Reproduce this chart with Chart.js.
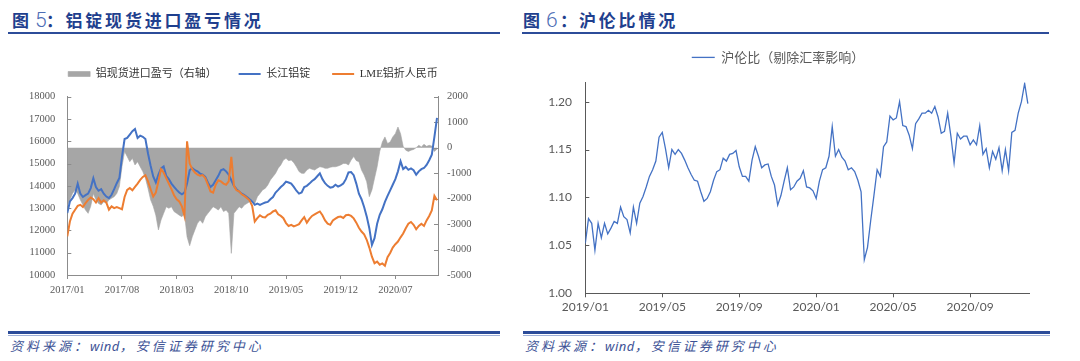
<!DOCTYPE html>
<html><head><meta charset="utf-8">
<script src="https://cdn.jsdelivr.net/npm/chart.js@4.4.0/dist/chart.umd.min.js"></script>
<style>
html,body{margin:0;padding:0;background:#fff;}
body{width:1080px;height:361px;position:relative;overflow:hidden;font-family:"Noto Sans CJK SC","Noto Sans",sans-serif;}
.t{position:absolute;color:#1f3f8e;font-weight:700;font-size:17px;line-height:20px;white-space:nowrap;top:10px;}
.ts{letter-spacing:2.8px;}
.num{position:absolute;color:#4d6db5;font-family:Roboto,"Noto Sans",sans-serif;font-weight:300;font-size:21px;line-height:22px;top:8.5px;}
.rule{position:absolute;height:2.5px;background:#2c4c99;top:31.5px;}
.frule{position:absolute;height:2.5px;background:#2c4c99;top:331px;}
.frule2{position:absolute;height:1px;background:#9fb0d8;top:334.5px;}
.foot{position:absolute;top:338px;font-size:13px;font-style:italic;color:#3d5396;letter-spacing:3px;white-space:nowrap;line-height:16px;}
.foot i{font-family:"Noto Sans",sans-serif;letter-spacing:0.5px;}
canvas{position:absolute;}
</style></head><body>

<span class="t" style="left:12px">图</span><span class="num" style="left:35px">5</span><span class="t" style="left:46px">：</span><span class="t ts" style="left:65.5px">铝锭现货进口盈亏情况</span>
<div class="rule" style="left:8px;width:492px"></div>

<span class="t" style="left:523px">图</span><span class="num" style="left:546px">6</span><span class="t" style="left:560px">：</span><span class="t ts" style="left:579px">沪伦比情况</span>
<div class="rule" style="left:522px;width:527px"></div>

<canvas id="c1" width="520" height="280" style="left:0;top:40px;width:520px;height:280px"></canvas>
<canvas id="c2" width="530" height="280" style="left:520px;top:40px;width:530px;height:280px"></canvas>

<div class="frule" style="left:8px;width:492px"></div><div class="frule2" style="left:8px;width:492px"></div>
<div class="frule" style="left:523px;width:527px"></div><div class="frule2" style="left:523px;width:527px"></div>
<div class="foot" style="left:10px">资料来源：<i>wind</i>，安信证券研究中心</div>
<div class="foot" style="left:525px">资料来源：<i>wind</i>，安信证券研究中心</div>

<script>
// ---------- Figure 5 data (one sample every 1/3 month from 2017/01) ----------
const fig5StepMonths = 1 / 3;
const fig5TickLabels = ['2017/01','2017/08','2018/03','2018/10','2019/05','2019/12','2020/07'];
const fig5TickEveryMonths = 7;
const fig5Names = ['铝现货进口盈亏（右轴）', '长江铝锭', 'LME铝折人民币'];

const importProfit = [
 -2300,-2050,-1800,-1660,-1800,-2050,-2250,-2450,-2580,-2300,
 -1800,-2050,-2190,-2250,-2120,-2190,-2050,-1990,-1925,-1800,
 -1530,-750,-150,-350,-550,-420,-680,-550,-750,-940,
 -1200,-1600,-2050,-2300,-2650,-3230,-2840,-2580,-2320,-2380,
 -2320,-2510,-2580,-2650,-2710,-2600,-3500,-3850,-3500,-3230,
 -2970,-2840,-2970,-2710,-2580,-2450,-2320,-2380,-2450,-2320,
 -2510,-2450,-2580,-4150,-2580,-2450,-2320,-2380,-2250,-2190,
 -2120,-2050,-2190,-1925,-1800,-1660,-1600,-1470,-1270,-1140,
 -1010,-810,-680,-490,-420,-510,-490,-590,-750,-940,
 -1010,-1010,-880,-810,-850,-880,-810,-750,-770,-810,
 -810,-770,-750,-750,-720,-680,-620,-620,-680,-490,
 -350,-510,-550,-880,-1070,-1340,-1925,-1660,-1200,-750,
 -150,220,420,160,220,420,550,810,550,50,
 -100,-150,-100,-70,0,90,30,130,50,90,
 60,-150,-50];

const changjiangAl = [
 12780,13300,13450,13650,14100,13650,13500,13580,13650,13900,
 14340,13950,13780,13850,13650,13520,13450,13600,13850,14120,
 14350,15300,16100,16150,16300,16450,16550,16150,16250,16200,
 16100,15450,14900,14420,14150,14500,14780,14870,14450,14300,
 14100,13950,13820,13700,13620,13700,14100,14700,14800,14700,
 14650,14550,14500,14400,14150,13950,14050,14250,14450,14700,
 14750,14650,14500,14250,14000,13850,13750,13650,13580,13500,
 13400,13300,13150,13200,13150,13200,13250,13280,13400,13500,
 13700,13820,13950,14050,14190,14150,14100,13950,13780,13650,
 13700,13950,14000,14100,14220,14300,14430,14560,14300,14120,
 14000,13920,13950,14050,13970,14020,14100,14300,14600,14620,
 14480,14100,13650,13400,13050,12630,12100,11350,11650,12300,
 12700,12950,13280,13550,13800,14050,14300,14650,15100,14750,
 14850,14720,14780,14700,14500,14650,14750,14800,14940,15150,
 15400,16200,17050];

const lmeAlCny = [
 11730,12400,12750,12930,13100,13150,13050,13230,13370,13480,
 13400,13250,13450,13250,13350,13250,12930,13080,13000,13050,
 13000,12950,13500,13820,13900,13800,13950,14100,14270,14400,
 14480,14200,13850,13520,13700,14200,14750,14600,14350,14100,
 13850,13580,13400,13300,13080,12650,16000,15000,14750,14600,
 14500,14450,14480,14350,14050,13750,13700,14050,14250,14200,
 14100,14050,14200,15300,14000,13800,13750,13620,13550,13450,
 13350,13100,12400,12550,12680,12600,12580,12700,12750,12850,
 12900,12720,12650,12550,12330,12200,12250,12180,12230,12280,
 12450,12600,12350,12520,12650,12720,12790,12850,12680,12450,
 12300,12250,12450,12530,12600,12620,12560,12680,12700,12650,
 12540,12350,12120,11950,11820,11580,11230,10820,10530,10600,
 10460,10520,10420,10800,10990,11230,11380,11500,11690,11860,
 12100,12300,12380,12250,12050,12200,12300,12200,12450,12650,
 12900,13550,13350];

// ---------- Figure 6 data (one sample every 1/6 month from 2019/01) ----------
const fig6StepMonths = 1 / 6;
const fig6TickLabels = ['2019/01','2019/05','2019/09','2020/01','2020/05','2020/09'];
const fig6TickEveryMonths = 4;
const fig6YTicks = [1.00, 1.05, 1.10, 1.15, 1.20];
const fig6Name = '沪伦比（剔除汇率影响）';
const shLonRatio = [
 1.052,1.078,1.073,1.045,1.073,1.058,1.073,1.062,1.068,1.075,
 1.073,1.090,1.080,1.077,1.063,1.090,1.073,1.094,1.101,1.111,
 1.122,1.129,1.138,1.163,1.168,1.151,1.131,1.150,1.145,1.150,
 1.146,1.139,1.131,1.124,1.118,1.117,1.106,1.096,1.099,1.106,
 1.118,1.127,1.129,1.141,1.138,1.145,1.146,1.149,1.132,1.122,
 1.122,1.117,1.139,1.153,1.143,1.131,1.134,1.135,1.122,1.113,
 1.092,1.102,1.117,1.131,1.108,1.111,1.117,1.120,1.128,1.111,
 1.110,1.107,1.099,1.117,1.129,1.131,1.143,1.174,1.143,1.150,
 1.142,1.138,1.129,1.131,1.127,1.118,1.106,1.035,1.048,1.076,
 1.102,1.129,1.122,1.153,1.158,1.185,1.181,1.183,1.200,1.175,
 1.174,1.165,1.151,1.177,1.182,1.188,1.188,1.191,1.188,1.195,
 1.184,1.167,1.169,1.188,1.164,1.136,1.167,1.161,1.164,1.164,
 1.155,1.160,1.155,1.175,1.145,1.151,1.131,1.148,1.140,1.152,
 1.128,1.150,1.128,1.168,1.170,1.188,1.200,1.219,1.198];

// ---------- helpers ----------
const toXY = (arr, step) => arr.map((v, i) => ({x: i * step, y: v}));

const inwardTicks = {
  id: 'inwardTicks',
  beforeDatasetsDraw(chart, args, opts) {
    const ctx = chart.ctx;
    ctx.save();
    Object.values(chart.scales).forEach(s => {
      if (s.axis !== 'y') return;
      const left = s.position === 'left';
      const x0 = left ? s.right : s.left;
      ctx.strokeStyle = s.options.border.color;
      ctx.lineWidth = 1;
      s.ticks.forEach(t => {
        const y = Math.round(s.getPixelForValue(t.value)) + 0.5;
        ctx.beginPath();
        ctx.moveTo(x0, y);
        ctx.lineTo(x0 + (left ? opts.len : -opts.len), y);
        ctx.stroke();
      });
    });
    ctx.restore();
  }
};

const serifFont = {family: '"Liberation Serif","Times New Roman",serif', size: 10.5};
const leftAxisColor = '#8c8c8c';
const plain = v => String(v);

new Chart(document.getElementById('c1'), {
  type: 'line',
  data: {
    datasets: [
      {label: fig5Names[0], data: toXY(importProfit, fig5StepMonths), yAxisID: 'y1',
       borderColor: '#a6a6a6', backgroundColor: '#a6a6a6', borderWidth: 0.6, fill: 'origin',
       pointRadius: 0, pointStyle: 'rect', order: 3},
      {label: fig5Names[1], data: toXY(changjiangAl, fig5StepMonths), yAxisID: 'y',
       borderColor: '#4472c4', backgroundColor: '#4472c4', borderWidth: 2, fill: false,
       pointRadius: 0, pointStyle: 'line', order: 2},
      {label: fig5Names[2], data: toXY(lmeAlCny, fig5StepMonths), yAxisID: 'y',
       borderColor: '#ed7d31', backgroundColor: '#ed7d31', borderWidth: 2, fill: false,
       pointRadius: 0, pointStyle: 'line', order: 1}
    ]
  },
  options: {
    responsive: false, animation: false, devicePixelRatio: 1,
    layout: {padding: {left: 0, right: 14, top: 6.5, bottom: 0}},
    plugins: {
      legend: {
        position: 'top', weight: 3000,
        labels: {
          usePointStyle: true, pointStyleWidth: 22, boxHeight: 5, padding: 22,
          color: '#333333',
          font: {family: '"Liberation Serif","Noto Sans CJK SC",serif', size: 11},
          sort: (a, b) => a.datasetIndex - b.datasetIndex
        }
      },
      title: {display: true, text: '', padding: 0, font: {size: 1, lineHeight: '7.2px'}},
      tooltip: {enabled: false},
      filler: {drawTime: 'beforeDatasetsDraw'},
      inwardTicks: {len: 4}
    },
    scales: {
      x: {
        type: 'linear', min: 0, max: 47.46,
        afterBuildTicks: s => { s.ticks = fig5TickLabels.map((_, i) => ({value: i * fig5TickEveryMonths})); },
        ticks: {callback: v => fig5TickLabels[Math.round(v / fig5TickEveryMonths)], font: serifFont,
                color: '#595959', padding: 5, maxRotation: 0, autoSkip: false},
        grid: {display: true, drawOnChartArea: false, drawTicks: true, tickLength: 4, color: leftAxisColor},
        border: {display: true, color: leftAxisColor},
        afterFit: s => { s.height = 45; }
      },
      y: {
        position: 'left', min: 10000, max: 18000,
        ticks: {stepSize: 1000, padding: 12, font: serifFont, color: '#595959', callback: plain},
        grid: {display: false, drawTicks: false},
        border: {display: true, color: leftAxisColor},
        afterFit: s => { s.width = 67.3; }
      },
      y1: {
        position: 'right', min: -5000, max: 2000,
        ticks: {stepSize: 1000, padding: 9, font: serifFont, color: '#595959', callback: plain},
        grid: {display: false, drawTicks: false},
        border: {display: true, color: leftAxisColor},
        afterFit: s => { s.width = 68; }
      }
    }
  },
  plugins: [inwardTicks]
});

const rightAxisColor = '#595959';
const sansFont = {family: 'Lato,"Liberation Sans",sans-serif', size: 12};

new Chart(document.getElementById('c2'), {
  type: 'line',
  data: {
    datasets: [
      {label: fig6Name, data: toXY(shLonRatio, fig6StepMonths),
       borderColor: '#4472c4', backgroundColor: '#4472c4', borderWidth: 1.3, fill: false,
       pointRadius: 0, pointStyle: 'line'}
    ]
  },
  options: {
    responsive: false, animation: false, devicePixelRatio: 1,
    layout: {padding: {left: 7, right: 21, top: 2.9, bottom: 0}},
    plugins: {
      legend: {
        position: 'top', weight: 3000,
        labels: {
          usePointStyle: true, pointStyleWidth: 23, boxHeight: 2, padding: 8,
          color: '#595959',
          font: {family: '"Noto Sans CJK SC",sans-serif', size: 13}
        }
      },
      title: {display: true, text: '', padding: 0, font: {size: 1, lineHeight: '8.6px'}},
      tooltip: {enabled: false},
      inwardTicks: {len: 4}
    },
    scales: {
      x: {
        type: 'linear', min: 0, max: 23.06,
        afterBuildTicks: s => { s.ticks = fig6TickLabels.map((_, i) => ({value: i * fig6TickEveryMonths})); },
        ticks: {callback: v => fig6TickLabels[Math.round(v / fig6TickEveryMonths)], font: sansFont,
                color: '#595959', padding: 2.5, maxRotation: 0, autoSkip: false},
        grid: {display: true, drawOnChartArea: false, drawTicks: true, tickLength: 4, color: rightAxisColor},
        border: {display: true, color: rightAxisColor},
        afterFit: s => { s.height = 26.7; }
      },
      y: {
        position: 'left', min: 1.0, max: 1.22,
        afterBuildTicks: s => { s.ticks = fig6YTicks.map(v => ({value: v})); },
        ticks: {callback: v => v.toFixed(2), padding: 13.3, font: sansFont, color: '#595959'},
        grid: {display: false, drawTicks: false},
        border: {display: true, color: rightAxisColor},
        afterFit: s => { s.width = 58.3; }
      }
    }
  },
  plugins: [inwardTicks]
});
</script>
</body></html>
